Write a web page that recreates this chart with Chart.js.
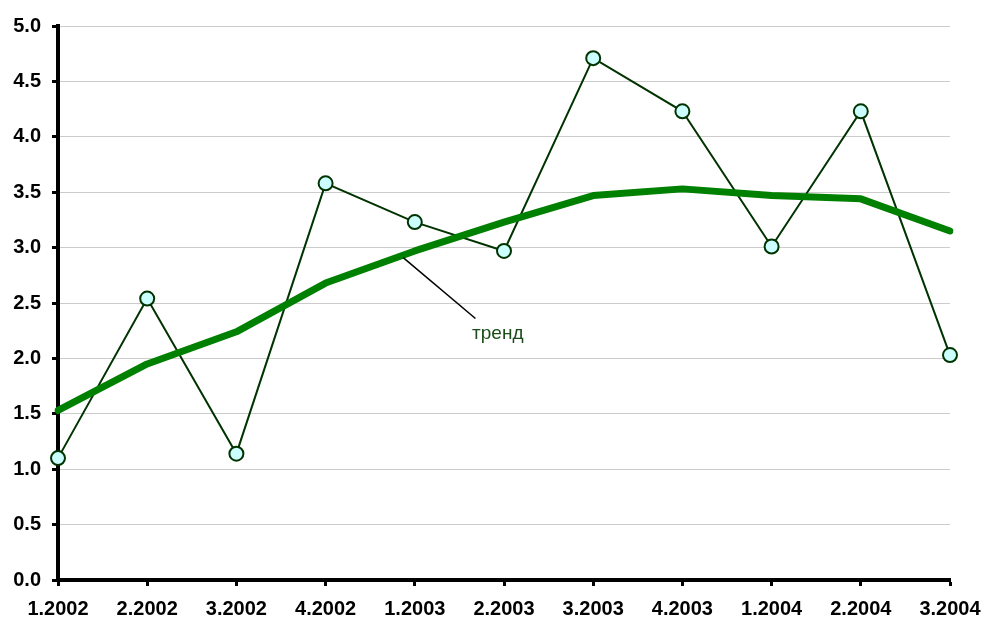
<!DOCTYPE html>
<html>
<head>
<meta charset="utf-8">
<script src="https://cdn.jsdelivr.net/npm/chart.js@4"></script>
<style>
html,body{margin:0;padding:0;background:#fff;}
#wrap{width:986px;height:622px;position:relative;}
</style>
</head>
<body>
<div id="wrap"><canvas id="c" width="986" height="622"></canvas></div>
<script>
const categories = ['1.2002','2.2002','3.2002','4.2002','1.2003','2.2003','3.2003','4.2003','1.2004','2.2004','3.2004'];
const values = [1.10, 2.54, 1.14, 3.58, 3.23, 2.97, 4.71, 4.23, 3.01, 4.23, 2.03];
const trend = [1.53, 1.95, 2.24, 2.68, 2.97, 3.23, 3.47, 3.53, 3.47, 3.44, 3.15];
const yTicks = [0, 0.5, 1, 1.5, 2, 2.5, 3, 3.5, 4, 4.5, 5];
const trendLabel = 'тренд';
// annotation anchor (in data units: category index, value)
const annoFrom = [3.87, 2.91];
const annoTo = [4.68, 2.36];
const annoText = [4.93, 2.22];

const annoPlugin = {
  id: 'anno',
  afterDatasetsDraw(chart) {
    const {ctx, scales:{x, y}} = chart;
    ctx.save();
    ctx.strokeStyle = '#000';
    ctx.lineWidth = 1.5;
    ctx.beginPath();
    ctx.moveTo(x.getPixelForValue(annoFrom[0]), y.getPixelForValue(annoFrom[1]));
    ctx.lineTo(x.getPixelForValue(annoTo[0]), y.getPixelForValue(annoTo[1]));
    ctx.stroke();
    ctx.fillStyle = '#1a4d1a';
    ctx.font = '19px "Liberation Sans", Arial, sans-serif';
    ctx.textAlign = 'center';
    ctx.textBaseline = 'middle';
    ctx.fillText(trendLabel, x.getPixelForValue(annoText[0]), y.getPixelForValue(annoText[1]));
    ctx.restore();
  }
};

new Chart(document.getElementById('c'), {
  type: 'line',
  data: {
    labels: categories,
    datasets: [
      {
        label: 'data',
        data: values,
        borderColor: '#003300',
        borderWidth: 2,
        pointRadius: 7,
        pointBorderWidth: 2,
        pointBackgroundColor: '#ccffff',
        pointBorderColor: '#003300',
        tension: 0,
        order: 2
      },
      {
        label: trendLabel,
        data: trend,
        borderColor: '#008000',
        borderWidth: 7,
        pointRadius: 0,
        borderCapStyle: 'round',
        borderJoinStyle: 'round',
        tension: 0,
        order: 1
      }
    ]
  },
  options: {
    responsive: false,
    animation: false,
    layout: {padding: {top: 26, right: 36, left: 0, bottom: 0}},
    plugins: {legend: {display: false}, tooltip: {enabled: false}},
    scales: {
      x: {
        offset: false,
        afterFit(axis) { axis.height = 42; axis.paddingLeft = 0; axis.paddingRight = 0; },
        grid: {drawOnChartArea: false, tickColor: '#000', tickWidth: 3, tickLength: 6},
        border: {color: '#000', width: 4},
        ticks: {color: '#000', font: {family: '"Liberation Sans", Arial, sans-serif', size: 20, weight: 'bold'}, padding: 11, maxRotation: 0, autoSkip: false}
      },
      y: {
        min: 0, max: 5,
        afterBuildTicks(axis) { axis.ticks = yTicks.map(v => ({value: v})); },
        afterFit(axis) { axis.width = 58; axis.paddingTop = 0; axis.paddingBottom = 0; },
        grid: {color: '#cccccc', lineWidth: 1, tickColor: '#000', tickWidth: 3, tickLength: 6},
        border: {color: '#000', width: 4},
        ticks: {color: '#000', font: {family: '"Liberation Sans", Arial, sans-serif', size: 20, weight: 'bold'}, padding: 11, callback: v => Number(v).toFixed(1)}
      }
    }
  },
  plugins: [annoPlugin]
});
</script>
</body>
</html>
